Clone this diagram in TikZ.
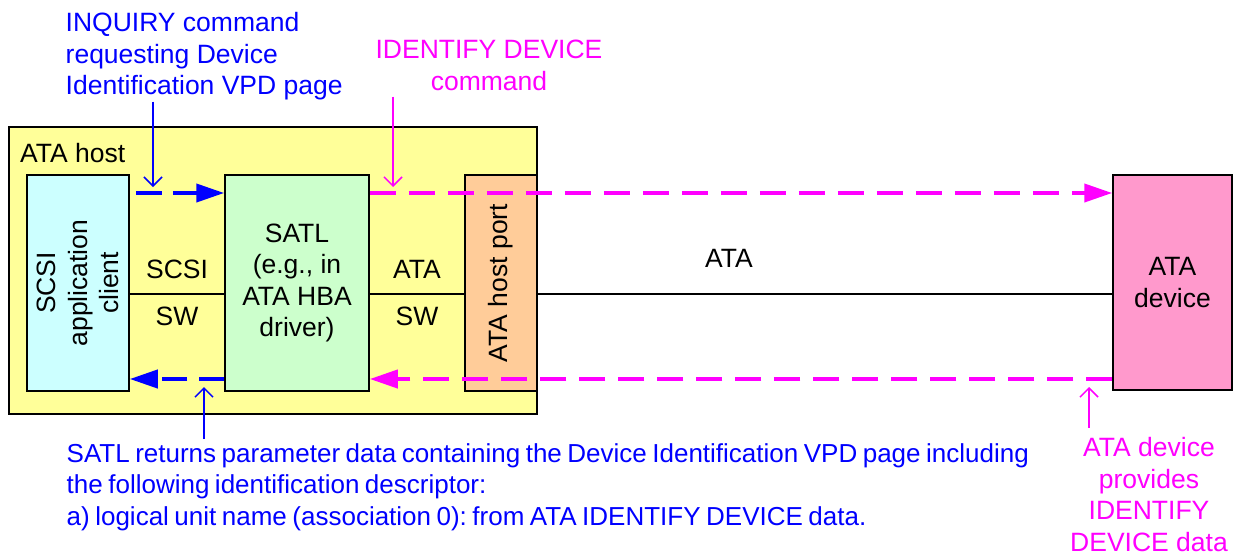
\documentclass[tikz,border=0pt]{standalone}
\usepackage{fontspec}
\setmainfont{Liberation Sans}
\usetikzlibrary{arrows.meta,calc}
\definecolor{hostY}{HTML}{FFFF99}
\definecolor{clientC}{HTML}{CCFFFF}
\definecolor{satlG}{HTML}{CCFFCC}
\definecolor{portO}{HTML}{FFCC99}
\definecolor{devP}{HTML}{FF99CC}
\definecolor{blueT}{HTML}{0000FF}
\definecolor{magT}{HTML}{FF00FF}
\newcommand{\retfont}{\fontsize{26}{31.5}\selectfont\frenchspacing\spaceskip=5.5pt\relax}
\begin{document}
\begin{tikzpicture}[x=1pt,y=-1pt,
  font=\fontsize{26.5}{31.5}\selectfont\frenchspacing,
  box/.style={draw=black, line width=1.5pt, inner sep=0pt, align=center},
  txt/.style={inner sep=0pt},
  sepline/.style={draw=black, line width=1.5pt},
  bluedash/.style={draw=blueT, line width=4pt, dash pattern=on 26pt off 11pt,
    -{Triangle[length=28pt,width=18pt]}},
  magdash/.style={draw=magT, line width=4pt, dash pattern=on 26pt off 13pt,
    -{Triangle[length=28pt,width=18pt]}},
  bluecall/.style={draw=blueT, line width=1.5pt, -{Straight Barb[length=9pt,width=18pt]}},
  magcall/.style={draw=magT, line width=1.5pt, -{Straight Barb[length=9pt,width=18pt]}}
]
\useasboundingbox (0,0) rectangle (1233,555);

% boxes
\node[box, fill=hostY, minimum width=528pt, minimum height=287pt] (host) at (273,270.5) {};
\node[txt, anchor=base west] (hostlbl) at (20,162) {ATA host};
\node[box, fill=clientC, minimum width=102pt, minimum height=216pt] (client) at (78,283) {};
\node[txt, rotate=90, align=center] (clientlbl) at (client.center) {SCSI\\application\\client};
\node[box, fill=satlG, minimum width=144pt, minimum height=216pt] (satl) at (297,283)
  {SATL\\(e.g., in\\ATA HBA\\driver)};
\node[box, fill=portO, minimum width=72pt, minimum height=216pt] (port) at (501,283) {};
\node[txt, rotate=90] (portlbl) at (port.center) {ATA host port};
\node[box, fill=devP, minimum width=119pt, minimum height=215pt] (dev) at (1172.5,282.5)
  {ATA\\device};

% interface labels
\node[txt, anchor=base] (scsilbl) at (177,278) {SCSI};
\node[txt, anchor=base] (sw1lbl) at (177,325) {SW};
\node[txt, anchor=base] (atalbl) at (417,278) {ATA};
\node[txt, anchor=base] (sw2lbl) at (417,325) {SW};
\node[txt, anchor=base] (atalink) at (729,267) {ATA};

% separator lines
\coordinate (mid) at (0,294);
\draw[sepline] (client.east |- mid) -- (satl.west |- mid);
\draw[sepline] (satl.east |- mid) -- (port.west |- mid);
\draw[sepline] (port.east |- mid) -- (dev.west |- mid);

% dashed flows
\coordinate (ytop) at (0,193);
\coordinate (ybot) at (0,379);
\draw[bluedash, shorten <=6pt] (client.east |- ytop) -- (satl.west |- ytop);
\draw[magdash] (satl.east |- ytop) -- (dev.west |- ytop);
\draw[magdash] (dev.west |- ybot) -- (satl.east |- ybot);
\draw[bluedash, dash pattern=on 25pt off 12pt] (satl.west |- ybot) -- (client.east |- ybot);

% annotation texts
\node[txt, anchor=north west, align=left, text=blueT] (inq) at (65.5,12.5)
  {INQUIRY command\\requesting Device\\Identification VPD page};
\node[txt, anchor=north, align=center, text=magT] (ident) at (489,40)
  {IDENTIFY DEVICE\\command};
\node[txt, anchor=north west, align=left, text=blueT, font=\retfont] (ret) at (66.5,443)
  {SATL returns parameter data containing the Device Identification VPD page including\\the following identification descriptor:\\a) logical unit name (association 0): from ATA IDENTIFY DEVICE data.};
\node[txt, anchor=north, align=center, text=magT] (prov) at (1149,437.5)
  {ATA device\\provides\\IDENTIFY\\DEVICE data};

% callouts
\coordinate (inqtip) at (153,187);
\coordinate (identtip) at (393,187);
\coordinate (rettip) at (204,387);
\coordinate (provtip) at (1089,387);
\draw[bluecall, shorten <=1pt] (inq.south -| inqtip) -- (inqtip);
\draw[magcall, shorten <=6pt] (ident.south -| identtip) -- (identtip);
\draw[bluecall, shorten <=4pt] (ret.north -| rettip) -- (rettip);
\draw[magcall, shorten <=10pt] (prov.north -| provtip) -- (provtip);
\end{tikzpicture}
\end{document}
